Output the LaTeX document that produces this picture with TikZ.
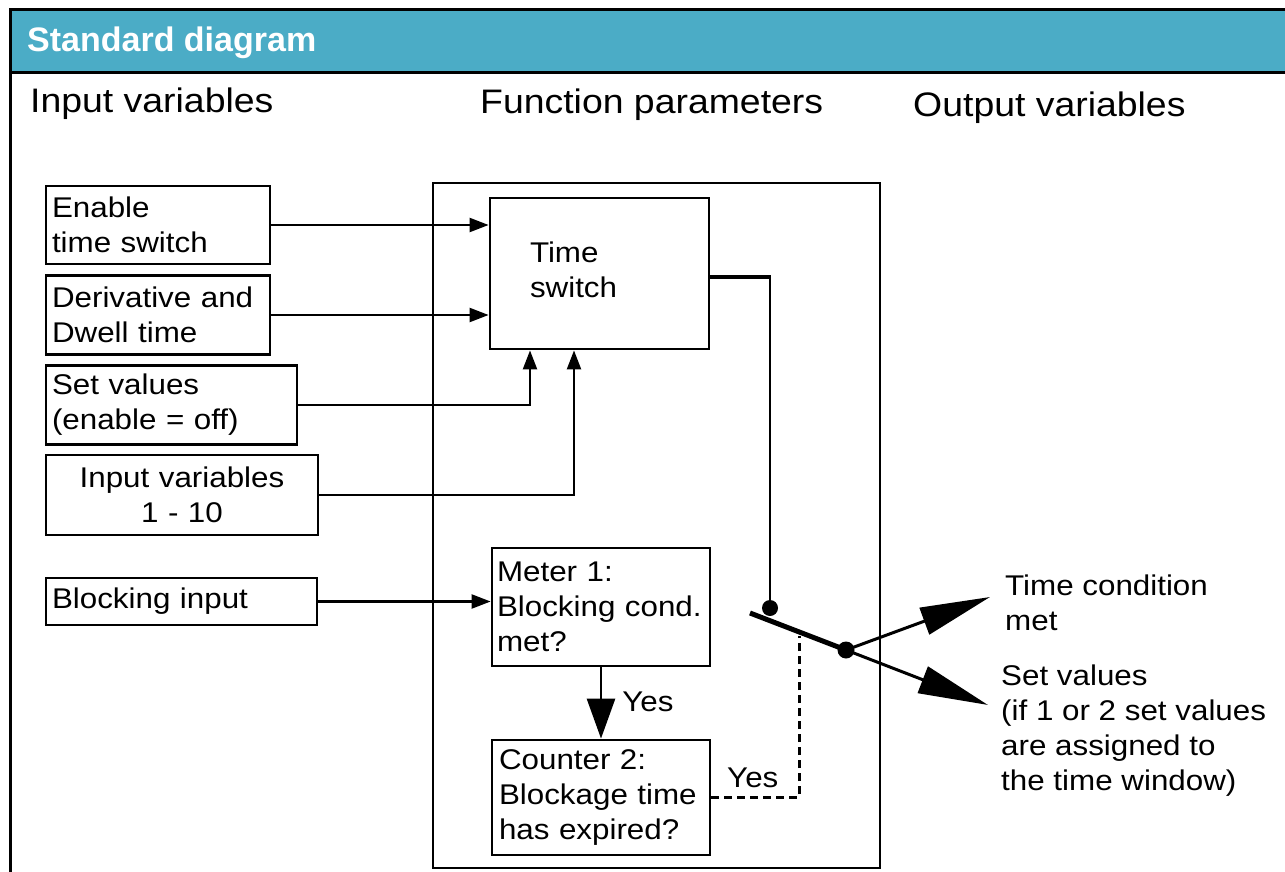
\documentclass[tikz,border=0pt]{standalone}
\usepackage{fontspec}
\setmainfont{Liberation Sans}[FakeStretch=1.1]
\newfontfamily\titlefont{Liberation Sans}
\usetikzlibrary{arrows.meta}
\definecolor{band}{HTML}{4BACC6}
\begin{document}
\begin{tikzpicture}[x=1pt,y=-1pt,
  txt/.style={font=\fontsize{28.5}{35}\selectfont},
  box/.style={draw, line width=2.8pt, align=left, inner ysep=0pt, txt, anchor=center},
  head/.style={font=\fontsize{34}{40}\selectfont, inner sep=0pt, anchor=base west},
  lbl/.style={txt, inner sep=0pt, anchor=base west, align=left},
  conn/.style={line width=2.3pt, -{Triangle[length=19pt,width=14pt]}},
  bigarrow/.style={line width=3pt, -{Triangle[length=70pt,width=28pt]}}]
\useasboundingbox (0,0) rectangle (1285,872);
% title band
\fill[band] (10,10) rectangle (1285,73);
\draw[line width=3pt] (1285,10) -- (10,10) -- (10,872);
\draw[line width=3pt] (10,73) -- (1285,73);
\node[inner sep=0pt, anchor=base west, text=white, font=\titlefont\bfseries\fontsize{34}{40}\selectfont] (title) at (27,52) {Standard diagram};
% headers
\node[head] (hin) at (30,113) {Input variables};
\node[head] (hfp) at (480,114) {Function parameters};
\node[head] (hout) at (913,117) {Output variables};
% function frame
\node[draw, line width=2.6pt, minimum width=447pt, minimum height=685pt, inner sep=0pt] (fp) at (656.5,525.5) {};
% input boxes
\node[box, minimum width=224pt, minimum height=78pt, text width=212pt, inner xsep=6pt] (en) at (158,225) {Enable\\time switch};
\node[box, minimum width=224pt, minimum height=79pt, text width=212pt, inner xsep=6pt] (dw) at (158,315) {Derivative and\\Dwell time};
\node[box, minimum width=251pt, minimum height=79pt, text width=239pt, inner xsep=6pt] (sv) at (171.5,405) {Set values\\(enable = off)};
\node[box, align=center, minimum width=272pt, minimum height=80pt, text width=260pt, inner xsep=6pt] (iv) at (182,495) {Input variables\\1 - 10};
\node[box, minimum width=271pt, minimum height=47pt, text width=259pt, inner xsep=6pt] (bi) at (181.5,601.5) {Blocking input};
% function boxes
\node[box, minimum width=219pt, minimum height=151pt, text width=139pt, inner xsep=40pt] (ts) at (599.5,273.5) {Time\\switch\rule[-8pt]{0pt}{8pt}};
\node[box, minimum width=218pt, minimum height=118pt, text width=208pt, inner xsep=5pt] (m1) at (601,607) {Meter 1:\\Blocking cond.\\met?};
\node[box, minimum width=218pt, minimum height=115pt, text width=204pt, inner xsep=7pt] (c2) at (601,797.5) {Counter 2:\\Blockage time\\has expired?};
% input connectors
\draw[conn] (en.east) -- (en.east -| ts.west);
\draw[conn] (dw.east) -- (dw.east -| ts.west);
\draw[conn] (sv.east) -| ([xshift=-69.5pt]ts.south);
\draw[conn] (iv.east) -| ([xshift=-25.5pt]ts.south);
\draw[conn] (bi.east) -- (bi.east -| m1.west);
\draw[line width=2.8pt, -{Triangle[length=40pt,width=28pt]}] (m1.south) -- (c2.north)
  node[midway, lbl, anchor=west, xshift=20pt, yshift=1pt] (yes1) {Yes};
% switch
\coordinate (tsout) at ([yshift=-3.5pt]ts.east);
\coordinate (contact) at (770,608);
\coordinate (leverend) at (750,613);
\coordinate (pivot) at (846,650);
\coordinate (dashtop) at (799,636);
\coordinate (out1) at (990,597);
\coordinate (out2) at (988,705);
\draw[line width=4pt] (tsout) -- (tsout -| contact);
\draw[line width=2.6pt] ([yshift=2pt]tsout -| contact) -- (contact);
\draw[line width=5pt] (leverend) -- (pivot);
\fill (contact) circle[radius=8pt];
\fill (pivot) circle[radius=8.5pt];
\draw[line width=3pt, dash pattern=on 8pt off 5pt] (c2.east) -| (dashtop);
\node[lbl] (yes2) at (727,787) {Yes};
% outputs
\node[lbl] (o1) at (1005,630) {Time condition\\met};
\node[lbl] (o2) at (1001,790) {Set values\\(if 1 or 2 set values\\are assigned to\\the time window)};
\draw[bigarrow] (pivot) -- (out1);
\draw[bigarrow] (pivot) -- (out2);
\end{tikzpicture}
\end{document}
